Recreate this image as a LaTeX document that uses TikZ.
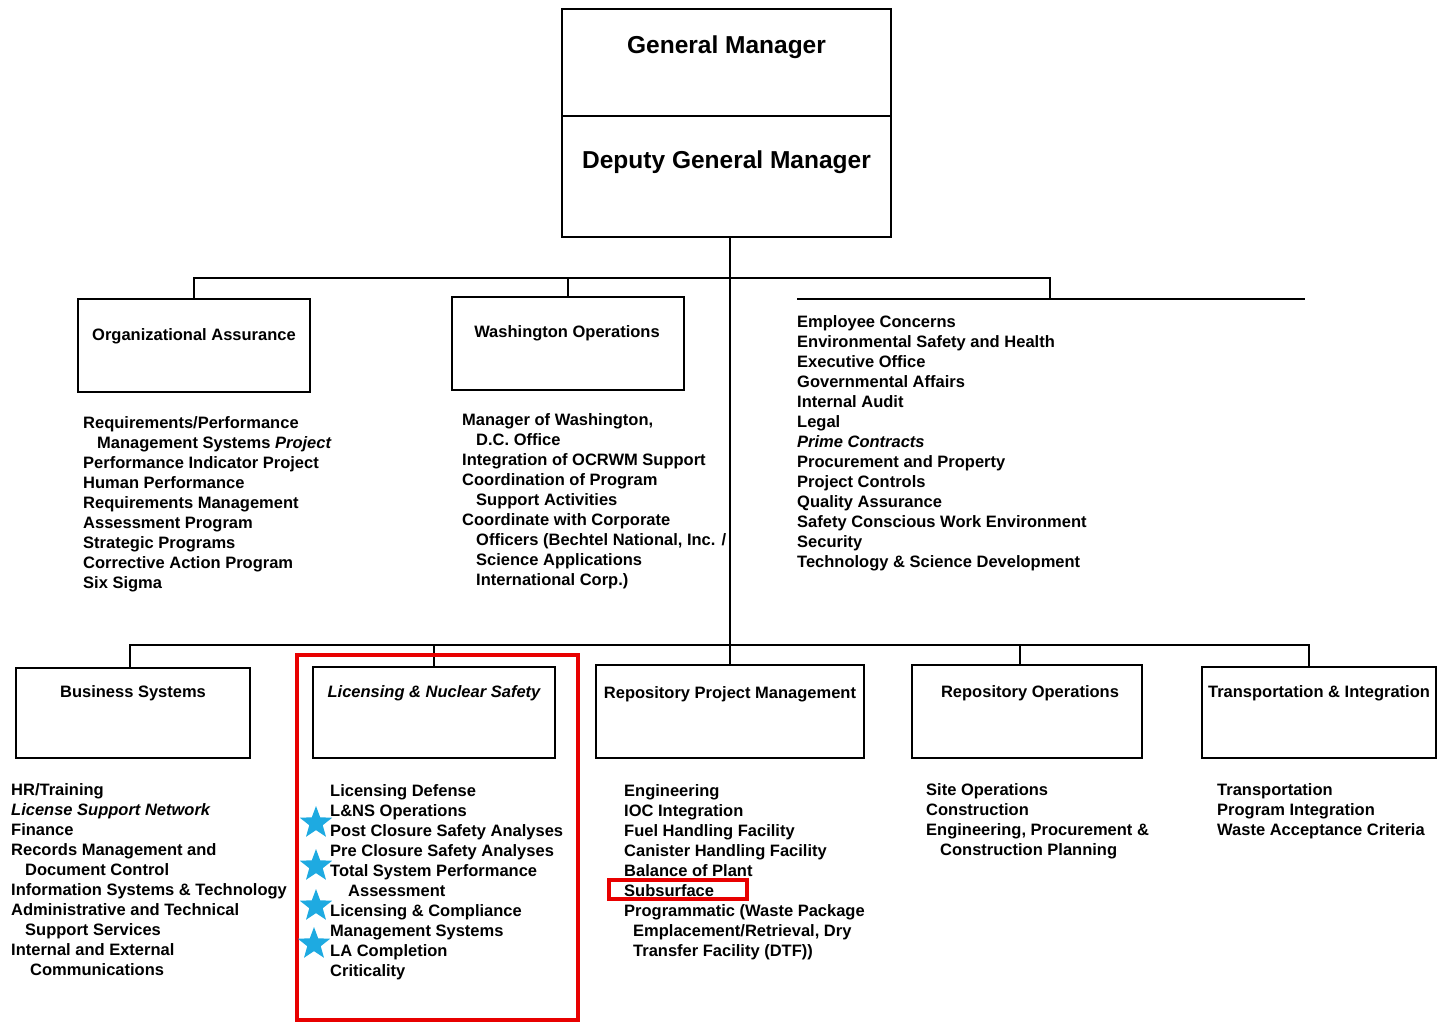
\documentclass[tikz,border=0pt]{standalone}
\usepackage{fontspec}
\setmainfont{Liberation Sans}
\usetikzlibrary{shapes.geometric}
\definecolor{hlred}{RGB}{232,0,0}
\definecolor{starblue}{RGB}{30,170,225}
\newcommand{\lstfont}{\fontsize{16.5}{20}\selectfont\bfseries}
\newcommand{\bigtfont}{\fontsize{24.5}{28}\selectfont\bfseries}
\newcommand{\ind}[1]{\hspace*{#1pt}}
\begin{document}
\begin{tikzpicture}[x=1pt,y=-1pt,
  box/.style={draw, line width=2.2pt, inner sep=0},
  ttl/.style={font=\lstfont, inner sep=0, text height=12, text depth=0},
  bigttl/.style={font=\bigtfont, inner sep=0, text height=17.6, text depth=0},
  lst/.style={font=\lstfont, inner sep=0, anchor=north west, align=left},
  conn/.style={line width=2pt},
  hlbox/.style={draw=hlred, line width=4pt, inner sep=0},
  bluestar/.style={star, star points=5, star point ratio=2.4, fill=starblue, draw=none, minimum size=34, inner sep=0}]
\useasboundingbox (0,0) rectangle (1441,1023);
\fill[white] (0,0) rectangle (1441,1023);

% top boxes
\node[box, minimum width=329, minimum height=107] (gm) at (726.5,62.5) {};
\node[box, minimum width=329, minimum height=121] (dgm) at (726.5,176.5) {};
\node[bigttl] (gmt) at (726.5,45) {General Manager};
\node[bigttl] (dgmt) at (726.5,160) {Deputy General Manager};

% second row boxes
\node[box, minimum width=232, minimum height=93] (oa) at (194,345.5) {};
\node[box, minimum width=232, minimum height=93] (wo) at (568,343.5) {};
\node[ttl] (oat) at (194,334) {Organizational Assurance};
\node[ttl] (wot) at (567,331) {Washington Operations};

% third row boxes
\node[box, minimum width=234, minimum height=90] (bs) at (133,713) {};
\node[box, minimum width=242, minimum height=91] (lns) at (434,712.5) {};
\node[box, minimum width=268, minimum height=93] (rpm) at (730,711.5) {};
\node[box, minimum width=230, minimum height=93] (ro) at (1027,711.5) {};
\node[box, minimum width=234, minimum height=91] (ti) at (1319,712.5) {};
\node[ttl] (bst) at (133,691) {Business Systems};
\node[ttl] (lnst) at (434,691) {\itshape Licensing \& Nuclear Safety};
\node[ttl] (rpmt) at (730,692) {Repository Project Management};
\node[ttl] (rot) at (1030,691) {Repository Operations};
\node[ttl] (tit) at (1319,691) {Transportation \& Integration};

% connectors
\coordinate (ub) at (0,278);
\coordinate (lb) at (0,645);
\coordinate (sdrop) at (1050,299);
\coordinate (sL) at (797,299);
\coordinate (sR) at (1305,299);
\coordinate (bsin) at ([xshift=-3]bs.north);
\coordinate (roin) at ([xshift=-7]ro.north);
\coordinate (tiin) at ([xshift=-10]ti.north);
\draw[conn] (dgm.south -| rpm.north) -- (rpm.north);
\draw[conn] (oa.north) -- (oa.north |- ub) -- (ub -| sdrop) -- (sdrop);
\draw[conn] (wo.north) -- (wo.north |- ub);
\draw[conn] (sL) -- (sR);
\draw[conn] (bsin) -- (bsin |- lb) -- (lb -| tiin) -- (tiin);
\draw[conn] (lns.north) -- (lns.north |- lb);
\draw[conn] (roin) -- (roin |- lb);

% lists
\node[lst] (oal) at (83,414) {\strut Requirements/Performance\\
\ind{14}Management Systems \textit{Project}\\
Performance Indicator Project\\
Human Performance\\
Requirements Management\\
Assessment Program\\
Strategic Programs\\
Corrective Action Program\\
Six Sigma};

\node[lst] (wol) at (462,411) {\strut Manager of Washington,\\
\ind{14}D.C. Office\\
Integration of OCRWM Support\\
Coordination of Program\\
\ind{14}Support Activities\\
Coordinate with Corporate\\
\ind{14}Officers (Bechtel National, Inc. /\\
\ind{14}Science Applications\\
\ind{14}International Corp.)};

\node[lst] (stl) at (797,313) {\strut Employee Concerns\\
Environmental Safety and Health\\
Executive Office\\
Governmental Affairs\\
Internal Audit\\
Legal\\
\textit{Prime Contracts}\\
Procurement and Property\\
Project Controls\\
Quality Assurance\\
Safety Conscious Work Environment\\
Security\\
Technology \& Science Development};

\node[lst] (bsl) at (11,781) {\strut HR/Training\\
\textit{License Support Network}\\
Finance\\
Records Management and\\
\ind{14}Document Control\\
Information Systems \& Technology\\
Administrative and Technical\\
\ind{14}Support Services\\
Internal and External\\
\ind{19}Communications};

\node[lst] (lnsl) at (330,782) {\strut Licensing Defense\\
L\&NS Operations\\
Post Closure Safety Analyses\\
Pre Closure Safety Analyses\\
Total System Performance\\
\ind{18}Assessment\\
Licensing \& Compliance\\
Management Systems\\
LA Completion\\
Criticality};

\node[lst] (rpml) at (624,782) {\strut Engineering\\
IOC Integration\\
Fuel Handling Facility\\
Canister Handling Facility\\
Balance of Plant\\
Subsurface\\
Programmatic (Waste Package\\
\ind{9}Emplacement/Retrieval, Dry\\
\ind{9}Transfer Facility (DTF))};

\node[lst] (rol) at (926,781) {\strut Site Operations\\
Construction\\
Engineering, Procurement \&\\
\ind{14}Construction Planning};

\node[lst] (til) at (1217,781) {\strut Transportation\\
Program Integration\\
Waste Acceptance Criteria};

% highlights
\node[hlbox, minimum width=281, minimum height=365] (hl) at (437.5,837.5) {};
\node[hlbox, minimum width=138, minimum height=19] (hlsub) at (678,889.5) {};

\node[bluestar] (s1) at (316,823) {};
\node[bluestar] (s2) at (316,866) {};
\node[bluestar] (s3) at (316,906) {};
\node[bluestar] (s4) at (314,944) {};
\end{tikzpicture}
\end{document}
